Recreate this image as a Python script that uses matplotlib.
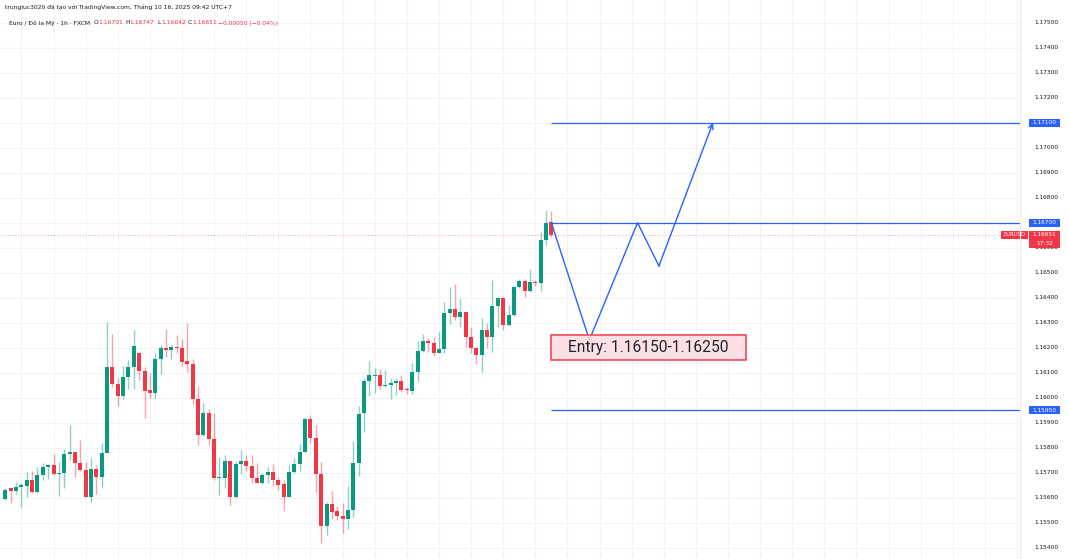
import numpy as np
import matplotlib.pyplot as plt
import matplotlib.transforms as mtransforms
from matplotlib.patches import Rectangle

# EURUSD 1h candles
opens = [1.15595, 1.15638, 1.15628, 1.15644, 1.15648, 1.15670, 1.15623, 1.15692, 1.15724, 1.15731,
         1.15695, 1.15699, 1.15776, 1.15784, 1.15740, 1.15711, 1.15604, 1.15714, 1.15684, 1.15780,
         1.16122, 1.16055, 1.16008, 1.16082, 1.16122, 1.16178, 1.16107, 1.16031, 1.16018, 1.16154,
         1.16198, 1.16190, 1.16203, 1.16199, 1.16145, 1.16136, 1.15994, 1.15850, 1.15938, 1.15834,
         1.15679, 1.15680, 1.15747, 1.15604, 1.15735, 1.15748, 1.15727, 1.15680, 1.15658, 1.15691,
         1.15702, 1.15671, 1.15654, 1.15604, 1.15703, 1.15734, 1.15782, 1.15915, 1.15839, 1.15695,
         1.15488, 1.15574, 1.15547, 1.15528, 1.15515, 1.15551, 1.15738, 1.15938, 1.16068, 1.16088,
         1.16090, 1.16048, 1.16051, 1.16058, 1.16068, 1.16035, 1.16028, 1.16102, 1.16188, 1.16228,
         1.16220, 1.16180, 1.16194, 1.16340, 1.16355, 1.16324, 1.16344, 1.16242, 1.16198, 1.16172,
         1.16271, 1.16244, 1.16368, 1.16398, 1.16291, 1.16331, 1.16444, 1.16466, 1.16427, 1.16463,
         1.16458, 1.16631, 1.16701]
highs = [1.15639, 1.15639, 1.15664, 1.15658, 1.15703, 1.15708, 1.15724, 1.15738, 1.15735, 1.15775,
         1.15743, 1.15794, 1.15891, 1.15784, 1.15831, 1.15744, 1.15758, 1.15731, 1.15818, 1.16304,
         1.16255, 1.16078, 1.16127, 1.16151, 1.16271, 1.16184, 1.16124, 1.16098, 1.16178, 1.16211,
         1.16275, 1.16212, 1.16251, 1.16235, 1.16298, 1.16153, 1.16047, 1.15978, 1.15954, 1.15938,
         1.15762, 1.15771, 1.15747, 1.15747, 1.15791, 1.15771, 1.15771, 1.15738, 1.15698, 1.15724,
         1.15735, 1.15684, 1.15671, 1.15731, 1.15758, 1.15814, 1.15924, 1.15931, 1.15891, 1.15742,
         1.15584, 1.15627, 1.15567, 1.15580, 1.15648, 1.15827, 1.15968, 1.16078, 1.16148, 1.16118,
         1.16114, 1.16111, 1.16078, 1.16078, 1.16091, 1.16044, 1.16138, 1.16228, 1.16255, 1.16238,
         1.16242, 1.16264, 1.16382, 1.16442, 1.16454, 1.16394, 1.16344, 1.16282, 1.16202, 1.16318,
         1.16298, 1.16471, 1.16404, 1.16402, 1.16371, 1.16447, 1.16474, 1.16474, 1.16515, 1.16471,
         1.16664, 1.16751, 1.16747]
lows = [1.15591, 1.15580, 1.15614, 1.15564, 1.15604, 1.15620, 1.15620, 1.15671, 1.15674, 1.15691,
        1.15607, 1.15638, 1.15751, 1.15684, 1.15708, 1.15602, 1.15584, 1.15615, 1.15644, 1.15778,
        1.16042, 1.15968, 1.15995, 1.16035, 1.16035, 1.16071, 1.15918, 1.15998, 1.15998, 1.16095,
        1.16164, 1.16156, 1.16178, 1.16127, 1.16104, 1.15974, 1.15811, 1.15847, 1.15811, 1.15671,
        1.15611, 1.15640, 1.15571, 1.15598, 1.15695, 1.15708, 1.15658, 1.15658, 1.15654, 1.15658,
        1.15648, 1.15631, 1.15548, 1.15604, 1.15700, 1.15708, 1.15782, 1.15820, 1.15624, 1.15418,
        1.15451, 1.15514, 1.15511, 1.15458, 1.15474, 1.15524, 1.15688, 1.15862, 1.16008, 1.16018,
        1.16035, 1.16042, 1.15995, 1.16011, 1.16024, 1.16015, 1.16015, 1.16067, 1.16182, 1.16182,
        1.16168, 1.16178, 1.16180, 1.16295, 1.16311, 1.16282, 1.16204, 1.16180, 1.16135, 1.16104,
        1.16198, 1.16184, 1.16284, 1.16271, 1.16287, 1.16327, 1.16438, 1.16404, 1.16424, 1.16447,
        1.16428, 1.16611, 1.16642]
closes = [1.15631, 1.15628, 1.15644, 1.15650, 1.15671, 1.15623, 1.15692, 1.15724, 1.15732, 1.15694,
          1.15699, 1.15775, 1.15784, 1.15740, 1.15712, 1.15604, 1.15714, 1.15682, 1.15778, 1.16122,
          1.16055, 1.16008, 1.16082, 1.16122, 1.16208, 1.16107, 1.16028, 1.16018, 1.16154, 1.16198,
          1.16190, 1.16203, 1.16198, 1.16143, 1.16136, 1.15994, 1.15850, 1.15938, 1.15834, 1.15678,
          1.15680, 1.15747, 1.15604, 1.15735, 1.15748, 1.15727, 1.15680, 1.15658, 1.15691, 1.15702,
          1.15671, 1.15651, 1.15604, 1.15703, 1.15734, 1.15782, 1.15915, 1.15839, 1.15695, 1.15488,
          1.15574, 1.15544, 1.15528, 1.15516, 1.15551, 1.15738, 1.15935, 1.16068, 1.16090, 1.16091,
          1.16048, 1.16051, 1.16058, 1.16068, 1.16031, 1.16030, 1.16102, 1.16188, 1.16228, 1.16220,
          1.16180, 1.16194, 1.16338, 1.16355, 1.16324, 1.16344, 1.16242, 1.16198, 1.16172, 1.16271,
          1.16244, 1.16368, 1.16398, 1.16291, 1.16331, 1.16444, 1.16466, 1.16427, 1.16463, 1.16458,
          1.16631, 1.16700, 1.16651]

# levels drawn on the chart
target = 1.17100
resistance = 1.16700
stop = 1.15950
entry_low, entry_high = 1.16150, 1.16250
last_price = 1.16651

# projected path (bar index, price)
path_x = [102, 109.1, 118.1, 122.1, 132.2]
path_y = [1.16700, 1.16231, 1.16700, 1.16527, 1.17100]

price_ticks = np.round(np.arange(1.154, 1.1751, 0.001), 3)

GREEN = '#089981'
RED = '#f23645'
BLUE = '#2962ff'
TXT = '#131722'
GRID = '#f2f3f5'

W, H = 1069, 559
fig = plt.figure(figsize=(W / 100, H / 100), dpi=100)
fig.patch.set_facecolor('white')
ax = fig.add_axes([0, 0, 1020 / W, 1])

n = len(opens)
idx = np.arange(n)
o = np.array(opens)
c = np.array(closes)
hi = np.array(highs)
lo = np.array(lows)
up = c >= o
cols = np.where(up, GREEN, RED)

# grid
for t in price_ticks:
    ax.axhline(t, color=GRID, lw=0.8, zorder=0)
for gx in np.arange(3, 190, 6):
    ax.axvline(gx, color=GRID, lw=0.8, zorder=0)

# candles
ax.vlines(idx, lo, hi, colors=cols, lw=1, alpha=0.45, zorder=2)
bottoms = np.minimum(o, c)
heights = np.maximum(np.abs(c - o), 0.00003)
ax.bar(idx, heights, bottom=bottoms, width=0.75, color=cols, zorder=3, linewidth=0)

xmin, xmax = -1.0, 189.55
ax.set_xlim(xmin, xmax)
ax.set_ylim(1.175908 - H * 0.00004, 1.175908)

# last price dotted line
ax.axhline(last_price, color=RED, lw=0.6, ls=(0, (1, 2)), alpha=0.6, zorder=1)

# horizontal levels
for lvl in (target, resistance, stop):
    ax.hlines(lvl, path_x[0], xmax, color=BLUE, lw=0.9, zorder=4)

# zigzag path with arrow on last leg
ax.plot(path_x[:-1], path_y[:-1], color=BLUE, lw=1.0, zorder=5)
ax.annotate('', xy=(path_x[-1], path_y[-1]), xytext=(path_x[-2], path_y[-2]),
            arrowprops=dict(arrowstyle='->', color=BLUE, lw=1.0, mutation_scale=9,
                            shrinkA=0, shrinkB=0), zorder=5)

# entry box
box_right = 138.3
ax.add_patch(Rectangle((path_x[0], entry_low), box_right - path_x[0], entry_high - entry_low,
                       facecolor='#fcdde0', edgecolor=RED, lw=1.2, alpha=0.9, zorder=6))
ax.text((path_x[0] + box_right) / 2, (entry_low + entry_high) / 2, 'Entry: 1.16150-1.16250',
        ha='center', va='center', fontsize=11.2, family='Roboto', color='#1e222d', zorder=7)

for s in ax.spines.values():
    s.set_visible(False)
ax.set_xticks([])
ax.set_yticks([])

# right price scale
tr = mtransforms.blended_transform_factory(fig.transFigure, ax.transData)
fig.add_artist(plt.Line2D([1020 / W, 1020 / W], [0, 1], color='#eceef2', lw=0.8,
                          transform=fig.transFigure))
for t in price_ticks:
    ax.text(1034 / W, t, f'{t:.5f}', transform=tr, fontsize=4.2, color=TXT,
            va='center', ha='left', clip_on=False)

bh = 0.00032
for lvl in (target, resistance, stop):
    ax.add_patch(Rectangle((1029 / W, lvl - bh / 2), 31 / W, bh, transform=tr,
                           facecolor=BLUE, edgecolor='none', clip_on=False, zorder=8))
    ax.text(1044.5 / W, lvl, f'{lvl:.5f}', transform=tr, fontsize=4.2, color='white',
            va='center', ha='center', clip_on=False, zorder=9)

# last price labels
top = last_price + 0.00017
ax.add_patch(Rectangle((1001 / W, top - 0.00033), 26.7 / W, 0.00033, transform=tr,
                       facecolor=RED, edgecolor='none', clip_on=False, zorder=8))
ax.text(1014.3 / W, top - 0.000165, 'EURUSD', transform=tr, fontsize=3.8, color='white',
        va='center', ha='center', clip_on=False, zorder=9)
ax.add_patch(Rectangle((1029 / W, top - 0.0007), 31 / W, 0.0007, transform=tr,
                       facecolor=RED, edgecolor='none', clip_on=False, zorder=8))
ax.text(1044.5 / W, top - 0.000165, f'{last_price:.5f}', transform=tr, fontsize=4.2,
        color='white', va='center', ha='center', clip_on=False, zorder=9)
ax.text(1044.5 / W, top - 0.0005, '17:32', transform=tr, fontsize=4.2,
        color='white', va='center', ha='center', clip_on=False, zorder=9)

# header
def ftext(px, py, s, color=TXT, size=4.3):
    fig.text(px / W, 1 - py / H, s, fontsize=size, color=color, va='center', ha='left')

ftext(5, 7, 'trungluc3020 đã tạo với TradingView.com, Tháng 10 16, 2025 09:42 UTC+7')
ftext(9, 23, 'Euro / Đô la Mỹ · 1h · FXCM')
for px, lab, val in [(94, 'O', '1.16701'), (125, 'H', '1.16747'),
                     (157, 'L', '1.16642'), (188, 'C', '1.16651')]:
    ftext(px, 23, lab)
    ftext(px + 3.8, 23, val, color=RED)
ftext(218, 23, '−0.00050 (−0.04%)', color=RED)

fig.savefig('out.png', dpi=100, facecolor='white')
